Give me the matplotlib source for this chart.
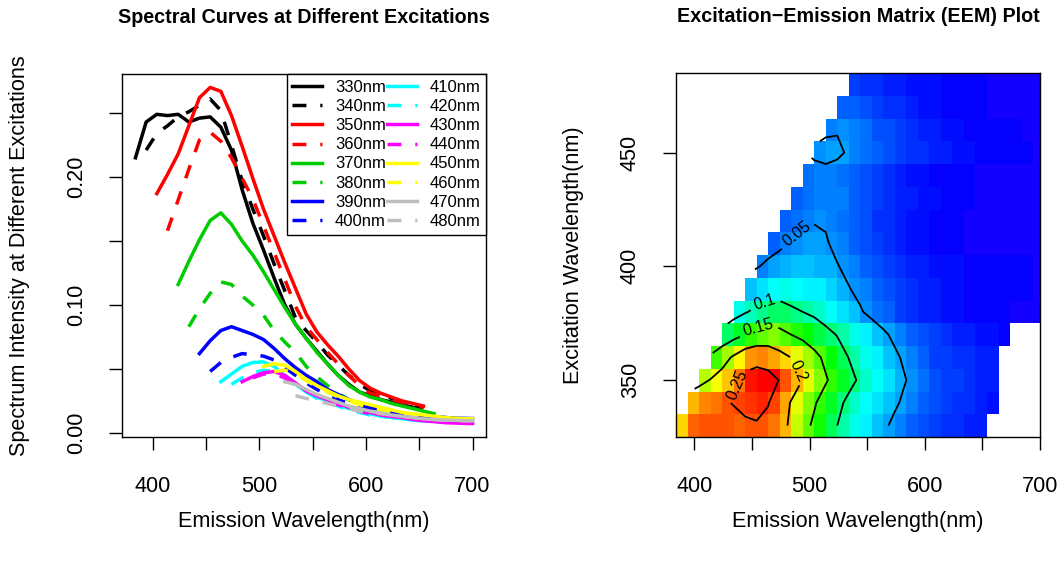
import matplotlib
matplotlib.use("Agg")
import matplotlib.pyplot as plt
import numpy as np
from matplotlib.colors import ListedColormap, hsv_to_rgb

plt.rcParams['font.family'] = ['Liberation Sans', 'DejaVu Sans']

############### data #####################
emission = [384, 394, 404, 414, 424, 434, 444, 454, 464, 474, 484, 494, 504, 514, 524, 534,
            544, 554, 564, 574, 584, 594, 604, 614, 624, 634, 644, 654, 664, 674, 684, 694, 700]
excitation = [330, 340, 350, 360, 370, 380, 390, 400, 410, 420, 430, 440, 450, 460, 470, 480]

# each spectrum starts at emission[k] for the k-th excitation
i330 = [0.215, 0.243, 0.249, 0.248, 0.249, 0.243, 0.246, 0.247, 0.239, 0.221, 0.190, 0.164, 0.143,
        0.121, 0.100, 0.085, 0.074, 0.064, 0.054, 0.045, 0.038, 0.032, 0.029, 0.026, 0.024, 0.022, 0.020]
i340 = [0.221, 0.234, 0.240, 0.247, 0.251, 0.256, 0.261, 0.252, 0.225, 0.197, 0.175, 0.154, 0.132,
        0.111, 0.090, 0.080, 0.071, 0.061, 0.053, 0.045, 0.038, 0.033, 0.030, 0.027, 0.024, 0.021, 0.019]
i350 = [0.187, 0.202, 0.218, 0.240, 0.262, 0.270, 0.267, 0.248, 0.224, 0.199, 0.175, 0.154, 0.133,
        0.113, 0.093, 0.079, 0.069, 0.060, 0.050, 0.041, 0.035, 0.031, 0.028, 0.025, 0.023, 0.021]
i360 = [0.158, 0.182, 0.206, 0.229, 0.235, 0.228, 0.215, 0.199, 0.183, 0.162, 0.141, 0.120, 0.099,
        0.083, 0.073, 0.063, 0.054, 0.045, 0.037, 0.031, 0.029, 0.026, 0.024, 0.022, 0.020]
i370 = [0.116, 0.134, 0.151, 0.166, 0.172, 0.163, 0.150, 0.139, 0.126, 0.112, 0.098, 0.085, 0.074,
        0.063, 0.054, 0.045, 0.037, 0.032, 0.028, 0.026, 0.023, 0.021, 0.019, 0.017, 0.015]
i380 = [0.083, 0.097, 0.109, 0.118, 0.116, 0.107, 0.100, 0.092, 0.080, 0.071, 0.063, 0.052, 0.044,
        0.037, 0.031, 0.026, 0.022, 0.020, 0.018, 0.016, 0.015, 0.014, 0.013, 0.012, 0.011, 0.0105,
        0.010, 0.010]
i390 = [0.062, 0.072, 0.080, 0.083, 0.080, 0.077, 0.073, 0.066, 0.058, 0.051, 0.045, 0.040, 0.034,
        0.030, 0.026, 0.023, 0.020, 0.018, 0.016, 0.015, 0.014, 0.013, 0.0125, 0.012, 0.0115, 0.0113,
        0.0112]
i400 = [0.048, 0.055, 0.059, 0.062, 0.061, 0.060, 0.057, 0.051, 0.045, 0.039, 0.034, 0.030, 0.026,
        0.023, 0.021, 0.019, 0.017, 0.016, 0.015, 0.014, 0.013, 0.0125, 0.012, 0.0115, 0.011, 0.011]
i410 = [0.040, 0.046, 0.052, 0.055, 0.0555, 0.052, 0.045, 0.038, 0.032, 0.028, 0.025, 0.022, 0.019,
        0.017, 0.015, 0.013, 0.012, 0.011, 0.010, 0.0095, 0.009, 0.009, 0.0085, 0.0085, 0.0085]
i420 = [0.038, 0.043, 0.047, 0.049, 0.048, 0.043, 0.037, 0.032, 0.027, 0.024, 0.021, 0.018, 0.016,
        0.014, 0.013, 0.012, 0.011, 0.010, 0.0095, 0.009, 0.0088, 0.0086, 0.0085, 0.0085]
i430 = [0.040, 0.044, 0.047, 0.048, 0.045, 0.039, 0.033, 0.029, 0.026, 0.023, 0.020, 0.018, 0.016,
        0.014, 0.013, 0.012, 0.0105, 0.0095, 0.0088, 0.008, 0.0077, 0.0074, 0.0073]
i440 = [0.043, 0.046, 0.046, 0.043, 0.038, 0.033, 0.029, 0.025, 0.022, 0.019, 0.017, 0.015, 0.014,
        0.013, 0.012, 0.011, 0.010, 0.0092, 0.0085, 0.008, 0.0077, 0.0075]
i450 = [0.052, 0.054, 0.053, 0.048, 0.042, 0.037, 0.033, 0.029, 0.026, 0.024, 0.022, 0.020, 0.018,
        0.016, 0.015, 0.014, 0.013, 0.012, 0.0115, 0.011, 0.011]
i460 = [0.048, 0.049, 0.046, 0.041, 0.036, 0.032, 0.028, 0.025, 0.022, 0.020, 0.018, 0.016, 0.015,
        0.014, 0.013, 0.012, 0.0115, 0.011, 0.0105, 0.0105]
i470 = [0.040, 0.038, 0.034, 0.030, 0.027, 0.024, 0.021, 0.019, 0.017, 0.0155, 0.014, 0.013, 0.012,
        0.011, 0.0105, 0.010, 0.0098, 0.0095, 0.0095]
i480 = [0.029, 0.027, 0.025, 0.023, 0.021, 0.019, 0.017, 0.016, 0.015, 0.014, 0.013, 0.012, 0.011,
        0.0105, 0.010, 0.0098, 0.0095, 0.0095]

spectra = [i330, i340, i350, i360, i370, i380, i390, i400,
           i410, i420, i430, i440, i450, i460, i470, i480]
line_colors = ['black', 'red', '#00CD00', 'blue', 'cyan', 'magenta', 'yellow', '#BEBEBE']
contour_levels = [0.05, 0.10, 0.15, 0.20, 0.25]

fs = 15.6
fig = plt.figure(figsize=(10.64, 5.66), dpi=100)
ax1 = fig.add_axes([122/1064, 1-437/566, 364/1064, 363/566])
ax2 = fig.add_axes([676/1064, 1-437/566, 364/1064, 364/566])

############### spectral curves ###################
for k, vals in enumerate(spectra):
    x = emission[k:k+len(vals)]
    ls = '-' if k % 2 == 0 else (0, (4, 4))
    ax1.plot(x, vals, color=line_colors[k//2], lw=2.5, ls=ls, label=f"{excitation[k]}nm")

allv = np.concatenate(spectra)
xr = emission[-1] - emission[0]
yr = allv.max() - allv.min()
ax1.set_xlim(emission[0] - 0.04*xr, emission[-1] + 0.04*xr)
ax1.set_ylim(allv.min() - 0.04*yr, allv.max() + 0.04*yr)
ax1.set_xticks([400, 450, 500, 550, 600, 650, 700])
ax1.set_xticklabels(['400', '', '500', '', '600', '', '700'])
ax1.set_yticks([0, 0.05, 0.10, 0.15, 0.20, 0.25])
ax1.set_yticklabels(['0.00', '', '0.10', '', '0.20', ''], rotation=90, va='center')
ax1.tick_params(axis='x', direction='out', length=9.4, width=1, labelsize=fs, pad=19)
ax1.tick_params(axis='y', direction='out', length=9.4, width=1, labelsize=fs, pad=16)
ax1.set_xlabel("Emission Wavelength(nm)", fontsize=fs, labelpad=10)
ax1.set_ylabel("Spectrum Intensity at Different Excitations", fontsize=fs, labelpad=26)
ax1.set_title("Spectral Curves at Different Excitations", fontsize=14.2, fontweight='bold', pad=37)
leg = ax1.legend(ncol=2, loc='upper right', fontsize=12, fancybox=False, edgecolor='black',
                 framealpha=1, borderaxespad=0, handlelength=1.8, handletextpad=0.75,
                 columnspacing=0.05, labelspacing=0.25, borderpad=0.35)
leg.get_frame().set_linewidth(1.0)

############### EEM ###################
Z = np.full((len(excitation), len(emission)), np.nan)
for k, vals in enumerate(spectra):
    Z[k, k:k+len(vals)] = vals

hues = np.linspace(0.68, 0.0, 64)
cmap = ListedColormap(hsv_to_rgb(np.column_stack([hues, np.ones(64), np.ones(64)])))
ex = np.array(excitation)
yedges = np.append(ex - 5, ex[-1] + 5)
ax2.pcolormesh(emission, yedges, Z[:, :-1], cmap=cmap, vmin=np.nanmin(Z), vmax=np.nanmax(Z),
               shading='flat', edgecolors='face', linewidth=0)
cs = ax2.contour(emission, excitation, Z, levels=contour_levels, colors='black', linewidths=1.3)
# label spots roughly where R put them
ax2.clabel(cs, fmt=lambda v: f"{v:g}", fontsize=11.5, inline=True,
           manual=[(495, 410), (463, 382), (457, 370), (482, 352), (446, 347)])
ax2.set_xlim(emission[0], emission[-1])
ax2.set_ylim(yedges[0], yedges[-1])
ax2.set_xticks([400, 450, 500, 550, 600, 650, 700])
ax2.set_xticklabels(['400', '', '500', '', '600', '', '700'])
ax2.set_yticks([350, 400, 450])
ax2.set_yticklabels(['350', '400', '450'], rotation=90, va='center')
ax2.tick_params(axis='x', direction='out', length=9.4, width=1, labelsize=fs, pad=19)
ax2.tick_params(axis='y', direction='out', length=9.4, width=1, labelsize=fs, pad=16)
ax2.set_xlabel("Emission Wavelength(nm)", fontsize=fs, labelpad=10)
ax2.set_ylabel("Excitation Wavelength(nm)", fontsize=fs, labelpad=26)
ax2.set_title("Excitation\u2212Emission Matrix (EEM) Plot", fontsize=14.2, fontweight='bold', pad=37)

for ax in (ax1, ax2):
    for s in ax.spines.values():
        s.set_linewidth(1.0)

fig.savefig("out.png", dpi=100)
